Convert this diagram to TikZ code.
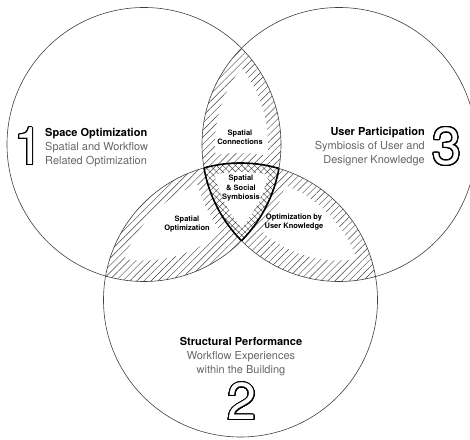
\documentclass[tikz,border=0pt]{standalone}
\usepackage{fontspec}
\setmainfont{TeX Gyre Heros}
\usepackage{contour}
\usetikzlibrary{patterns.meta}
\definecolor{subgray}{gray}{0.4}
\newcommand{\sub}[1]{\textcolor{subgray}{#1}}
\newcommand{\outnum}[1]{{\color{white}\contour{black}{#1}}}
\contourlength{1pt}
\contournumber{32}
\def\rad{137}

\begin{document}
\begin{tikzpicture}[x=1pt, y=1pt,
    ring/.style={draw=black!75, line width=0.6pt},
    hatched/.style={pattern={Lines[angle=45, distance=5pt, line width=0.45pt]}, pattern color=black!75},
    crossed/.style={pattern={Hatch[angle=45, distance=4.5pt, line width=0.4pt]}, pattern color=black!75},
    title/.style={font=\fontsize{11}{14}\selectfont, inner sep=0pt},
    small/.style={font=\fontsize{7.5}{9.5}\selectfont\bfseries, align=center, inner sep=0pt},
    bignum/.style={font=\fontsize{52}{52}\selectfont, inner sep=0pt}]
    \useasboundingbox (0,0) rectangle (470,439);

    % Centres
    \coordinate (c1) at (144,294.5);
    \coordinate (c2) at (240.5,139);
    \coordinate (c3) at (339,294.5);

    % Hatched lenses
    \begin{scope}
      \clip (c1) circle (\rad);
      \fill[hatched] (c3) circle (\rad);
    \end{scope}
    \begin{scope}
      \clip (c1) circle (\rad);
      \fill[hatched] (c2) circle (\rad);
    \end{scope}
    \begin{scope}
      \clip (c2) circle (\rad);
      \fill[hatched] (c3) circle (\rad);
    \end{scope}

    % White inside the lenses
    \begin{scope}
      \clip (c1) circle ({\rad-13});
      \clip (c3) circle ({\rad-13});
      \fill[white, even odd rule] (0,0) rectangle (470,439) (c2) circle ({\rad+10});
    \end{scope}
    \begin{scope}
      \clip (c1) circle ({\rad-21});
      \clip (c2) circle ({\rad-14});
      \fill[white, even odd rule] (0,0) rectangle (470,439) (c3) circle ({\rad+10});
    \end{scope}
    \begin{scope}
      \clip (c2) circle ({\rad-14});
      \clip (c3) circle ({\rad-21});
      \fill[white, even odd rule] (0,0) rectangle (470,439) (c1) circle ({\rad+10});
    \end{scope}

    % Centre region
    \begin{scope}
      \clip (c1) circle (\rad);
      \clip (c2) circle (\rad);
      \fill[white] (c3) circle (\rad);
      \fill[crossed] (c3) circle (\rad);
      \clip (c1) circle ({\rad-9});
      \clip (c2) circle ({\rad-9});
      \fill[white] (c3) circle ({\rad-9});
    \end{scope}

    % Circles
    \draw[ring] (c1) circle (\rad);
    \draw[ring] (c2) circle (\rad);
    \draw[ring] (c3) circle (\rad);

    % Centre outline
    \begin{scope}
      \clip (c1) circle (\rad);
      \clip (c2) circle (\rad);
      \draw[line width=1.6pt] (c3) circle (\rad);
    \end{scope}
    \begin{scope}
      \clip (c2) circle (\rad);
      \clip (c3) circle (\rad);
      \draw[line width=1.6pt] (c1) circle (\rad);
    \end{scope}
    \begin{scope}
      \clip (c1) circle (\rad);
      \clip (c3) circle (\rad);
      \draw[line width=1.6pt] (c2) circle (\rad);
    \end{scope}

    % Titles
    \node[bignum] (num1) at (28.5,292) {\outnum{1}};
    \node[title, anchor=west, align=left] (space) at (45,291)
      {\textbf{Space Optimization}\\\sub{Spatial and Workflow}\\\sub{Related Optimization}};
    \node[title, anchor=east, align=right] (user) at (425,292)
      {\textbf{User Participation}\\\sub{Symbiosis of User and}\\\sub{Designer Knowledge}};
    \node[bignum] (num3) at (447,292) {\outnum{3}};
    \node[title, align=center] (struct) at (241,82)
      {\textbf{Structural Performance}\\\sub{Workflow Experiences}\\\sub{within the Building}};
    \node[bignum] (num2) at (242,37) {\outnum{2}};

    % Overlaps
    \node[small] (conn) at (240,301.5) {Spatial\\Connections};
    \node[small] (symb) at (241,250.5) {Spatial\\\& Social\\Symbiosis};
    \node[small] (sopt) at (187,215) {Spatial\\Optimization};
    \node[small] (uopt) at (294,217) {Optimization by\\User Knowledge};
  \end{tikzpicture}
\end{document}
